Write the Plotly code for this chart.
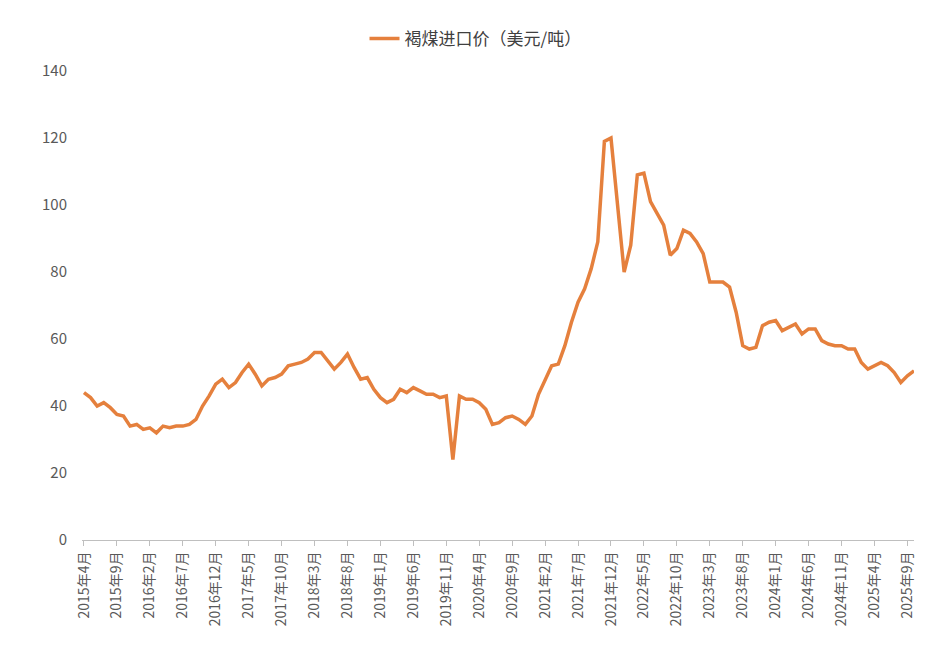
import plotly.graph_objects as go

months = []
for y in range(2015, 2026):
    for m in range(1, 13):
        if (y == 2015 and m < 4) or (y == 2025 and m > 10):
            continue
        months.append(f"{y}年{m}月")

prices = [
    44, 42.5, 40, 41, 39.5, 37.5, 37, 34, 34.5,
    33, 33.5, 32, 34, 33.5, 34, 34, 34.5, 36, 40, 43, 46.5,
    48, 45.5, 47, 50, 52.5, 49.5, 46, 48, 48.5, 49.5, 52, 52.5,
    53, 54, 56, 56, 53.5, 51, 53, 55.5, 51.5, 48, 48.5, 45,
    42.5, 41, 42, 45, 44, 45.5, 44.5, 43.5, 43.5, 42.5, 43, 24,
    43, 42, 42, 41, 39, 34.5, 35, 36.5, 37, 36, 34.5, 37,
    43.5, 48, 52, 52.5, 58, 65, 71, 75, 81, 89, 119, 120,
    100, 80, 88, 109, 109.5, 101, 97.5, 94, 85, 87, 92.5, 91.5,
    89, 85.5, 77, 77, 77, 75.5, 68, 58, 57, 57.5, 64, 65,
    65.5, 62.5, 63.5, 64.5, 61.5, 63, 63, 59.5, 58.5, 58, 58, 57,
    57, 53, 51, 52, 53, 52, 50, 47, 49, 50.5,
]
tick_labels = months[::5]

fig = go.Figure(go.Scatter(
    x=months, y=prices, mode="lines", name="褐煤进口价（美元/吨）",
    line=dict(color="#E5803D", width=3.5),
))
font = "Noto Sans CJK SC"
fig.update_layout(
    width=935, height=645, paper_bgcolor="white", plot_bgcolor="white",
    margin=dict(l=74, r=29, t=63, b=113, autoexpand=False),
    font=dict(family=font, size=14, color="#595959"),
    showlegend=True,
    legend=dict(orientation="h", x=0.5, xanchor="center", xref="container",
                y=0.952, yanchor="middle", yref="container",
                font=dict(size=17, color="#404040")),
    xaxis=dict(type="category", tickvals=tick_labels, ticktext=tick_labels,
               tickangle=-90, showline=True, linecolor="#BFBFBF", linewidth=1,
               ticks="outside", ticklen=5, tickcolor="#BFBFBF", automargin=False,
               showgrid=False, range=[-0.3, len(months) - 1],
               tickfont=dict(size=14, color="#595959")),
    yaxis=dict(range=[0, 140], dtick=20, showgrid=False, showline=False,
               zeroline=False, ticklabelstandoff=14, automargin=False,
               tickfont=dict(size=15, color="#595959")),
)
fig.write_html("out.html")
